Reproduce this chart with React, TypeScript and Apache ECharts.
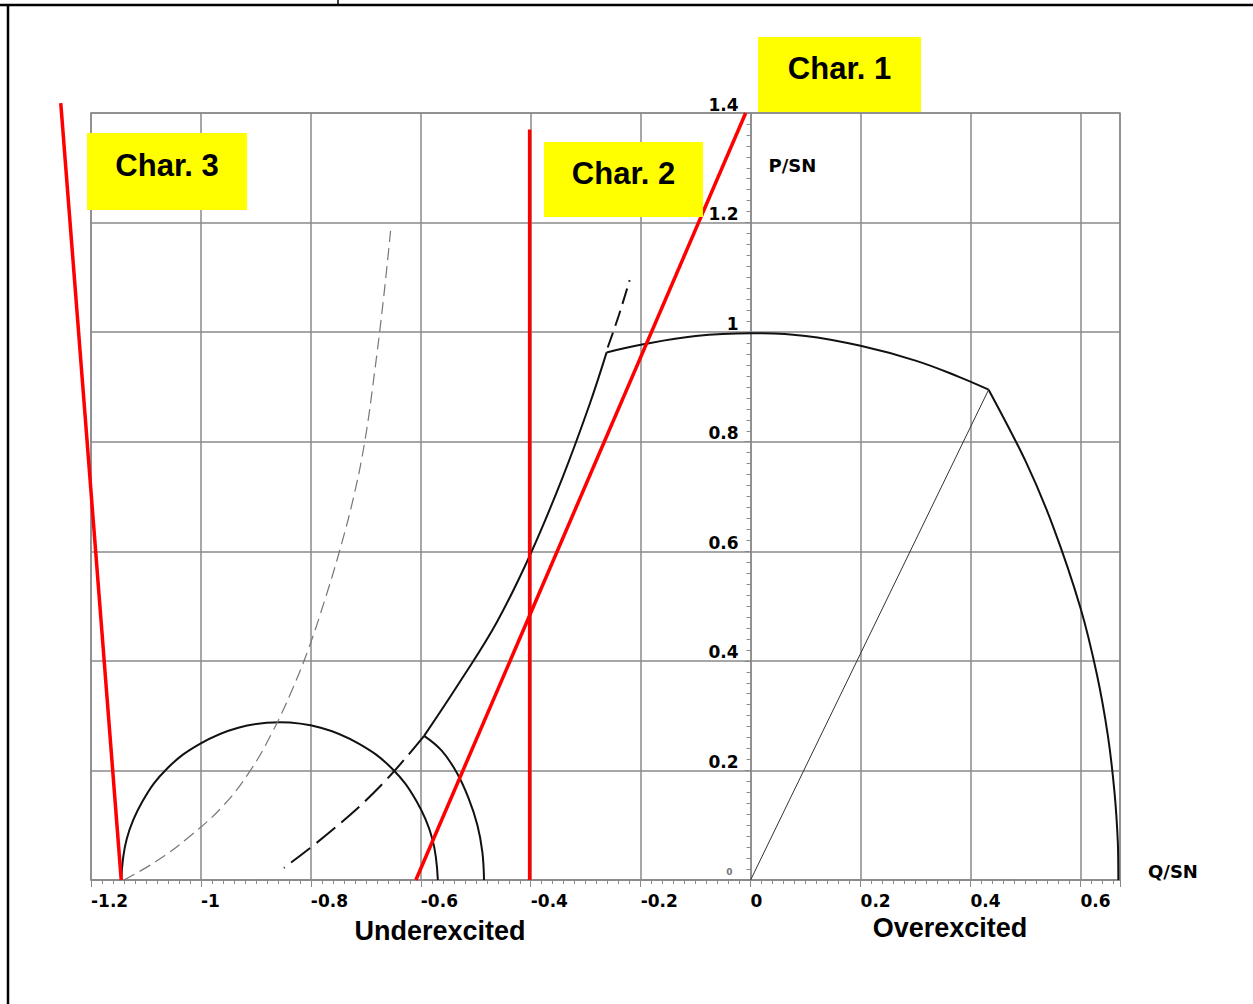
import React, { useEffect, useRef } from "react";
import * as echarts from "echarts";

// Capability diagram: Q/SN on x, P/SN on y
const statorArc: [number, number][] = [
  [-0.262, 0.963], [-0.2, 0.977], [-0.1, 0.993], [0, 0.998], [0.1, 0.993],
  [0.2, 0.975], [0.3, 0.948], [0.38, 0.918], [0.433, 0.895],
];
const rotorArc: [number, number][] = [
  [0.433, 0.895], [0.5, 0.765], [0.55, 0.646], [0.6, 0.497], [0.63, 0.375],
  [0.65, 0.263], [0.662, 0.16], [0.668, 0.07], [0.669, 0],
];
const loadLine: [number, number][] = [[0, 0], [0.433, 0.895]];
const smallCircle: [number, number][] = [
  [-1.145, 0], [-1.135, 0.075], [-1.106, 0.144], [-1.061, 0.204], [-1.001, 0.249],
  [-0.932, 0.278], [-0.857, 0.288], [-0.782, 0.278], [-0.713, 0.249], [-0.653, 0.204],
  [-0.608, 0.144], [-0.579, 0.075], [-0.569, 0],
];
const innerArc: [number, number][] = [
  [-0.594, 0.263], [-0.562, 0.236], [-0.534, 0.195], [-0.513, 0.149],
  [-0.497, 0.1], [-0.488, 0.051], [-0.485, 0],
];
const limitCurve: [number, number][] = [
  [-0.594, 0.263], [-0.53, 0.36], [-0.462, 0.47], [-0.4, 0.596],
  [-0.342, 0.735], [-0.293, 0.868], [-0.262, 0.963],
];
const limitDashUpper: [number, number][] = [[-0.26, 0.972], [-0.24, 1.03], [-0.22, 1.095]];
const limitDashLower: [number, number][] = [
  [-0.594, 0.263], [-0.673, 0.172], [-0.76, 0.092], [-0.849, 0.022],
];
const staticCurve: [number, number][] = [
  [-1.14, 0], [-1.08, 0.035], [-1.02, 0.08], [-0.96, 0.135], [-0.91, 0.2],
  [-0.87, 0.27], [-0.835, 0.345], [-0.805, 0.42], [-0.775, 0.51], [-0.748, 0.6],
  [-0.722, 0.7], [-0.702, 0.8], [-0.685, 0.92], [-0.668, 1.06], [-0.655, 1.185],
];
const char1: [number, number][] = [[-0.609, 0], [-0.009, 1.4]];
const char2: [number, number][] = [[-0.402, 0], [-0.402, 1.37]];
const char3: [number, number][] = [[-1.145, 0], [-1.255, 1.418]];

const charLabels = ["Char. 1", "Char. 2", "Char. 3"];
const axisNames = { x: "Q/SN", y: "P/SN" };
const regionLabels = ["Underexcited", "Overexcited"];

const tickFont = { fontFamily: "DejaVu Sans", fontWeight: "bold" as const, fontSize: 17, color: "#000" };
const grey = "#8a8a8a";

function curve(data: [number, number][], color: string, width: number, type: any = "solid", smooth: any = 0.4, z = 3) {
  return {
    type: "line",
    data,
    showSymbol: false,
    smooth,
    clip: false,
    silent: true,
    z,
    lineStyle: { color, width, type },
  };
}

function charBox(x: number, y: number, w: number, h: number, text: string, ty: number) {
  return [
    { type: "rect", shape: { x, y, width: w, height: h }, style: { fill: "#ffff00" }, z: 10 },
    {
      type: "text", x: x + w / 2, y: ty, z: 11,
      style: { text, fill: "#000", fontSize: 31, fontWeight: "bold", fontFamily: "Liberation Sans", align: "center", verticalAlign: "middle" },
    },
  ];
}

export default function App() {
  const ref = useRef<HTMLDivElement>(null);
  useEffect(() => {
    const chart = echarts.init(ref.current!, null, { renderer: "svg" });
    const option: any = {
      animation: false,
      backgroundColor: "#fff",
      grid: { left: 91, right: 133, top: 113, bottom: 124, show: true, borderColor: grey, borderWidth: 1.5, backgroundColor: "transparent" },
      xAxis: {
        type: "value", min: -1.2, max: 0.672, interval: 0.2,
        name: axisNames.x, nameLocation: "end", nameGap: 28,
        nameTextStyle: { ...tickFont, fontSize: 18, verticalAlign: "bottom", lineHeight: 18 },
        axisLine: { onZero: true, lineStyle: { color: grey, width: 1.5 } },
        axisTick: { show: true, length: 7, lineStyle: { color: grey } },
        minorTick: { show: true, splitNumber: 10, length: 4, lineStyle: { color: grey } },
        splitLine: { show: true, lineStyle: { color: grey, width: 1.5 } },
        axisLabel: {
          ...tickFont, showMaxLabel: false, align: "left", margin: 12,
          formatter: (v: number) => String(Number(v.toFixed(2))),
        },
      },
      yAxis: {
        type: "value", min: 0, max: 1.4, interval: 0.2,
        position: "left", offset: -659.6,
        name: axisNames.y, nameLocation: "end", nameGap: -52,
        nameTextStyle: { ...tickFont, fontSize: 18, align: "left", verticalAlign: "middle", padding: [0, 0, 0, 18] },
        axisLine: { onZero: false, lineStyle: { color: grey, width: 1.5 } },
        axisTick: { show: true, length: 6, lineStyle: { color: grey } },
        minorTick: { show: true, splitNumber: 10, length: 4, lineStyle: { color: grey } },
        splitLine: { show: true, lineStyle: { color: grey, width: 1.5 } },
        axisLabel: {
          ...tickFont, margin: 12, verticalAlign: "bottom", lineHeight: 17,
          formatter: (v: number) => (v === 0 ? "{s|0}" : String(Number(v.toFixed(2)))),
          rich: { s: { fontSize: 9, color: "#777", fontFamily: "DejaVu Sans", padding: [0, 6, 0, 0] } },
        },
      },
      series: [
        curve(statorArc, "#111", 2),
        curve(rotorArc, "#111", 2, "solid", 0.3),
        curve(loadLine, "#333", 1, "solid", false),
        curve(smallCircle, "#111", 2),
        curve(innerArc, "#111", 2),
        curve(limitCurve, "#111", 2),
        curve(limitDashUpper, "#111", 2, [16, 7]),
        curve(limitDashLower, "#111", 2, [24, 8]),
        curve(staticCurve, "#777", 1.2, [12, 6]),
        curve(char1, "#ff0000", 3.5, "solid", false, 6),
        curve(char2, "#ff0000", 3.5, "solid", false, 6),
      ],
    };
    chart.setOption(option);

    // Char. 3 reaches outside the plot area: map it through the chart's own scales
    const char3Px = char3.map((pt) => chart.convertToPixel({ gridIndex: 0 }, pt) as number[]);
    const graphics: any[] = [
      { type: "line", shape: { x1: 0, y1: 5, x2: 1253, y2: 5 }, style: { stroke: "#000", lineWidth: 2.5 } },
      { type: "line", shape: { x1: 8, y1: 5, x2: 8, y2: 1004 }, style: { stroke: "#000", lineWidth: 2.5 } },
      { type: "line", shape: { x1: 338, y1: 0, x2: 338, y2: 5 }, style: { stroke: "#000", lineWidth: 1.5 } },
      { type: "polyline", shape: { points: char3Px }, style: { stroke: "#ff0000", lineWidth: 3.5, fill: "none" }, z: 6 },
      ...charBox(758, 37, 163, 75, charLabels[0], 68),
      ...charBox(544, 142, 159, 75, charLabels[1], 173),
      ...charBox(87, 133, 160, 77, charLabels[2], 165),
      {
        type: "text", x: 440, y: 931,
        style: { text: regionLabels[0], fill: "#000", fontSize: 27, fontWeight: "bold", fontFamily: "Liberation Sans", align: "center", verticalAlign: "middle" },
      },
      {
        type: "text", x: 950, y: 928,
        style: { text: regionLabels[1], fill: "#000", fontSize: 27, fontWeight: "bold", fontFamily: "Liberation Sans", align: "center", verticalAlign: "middle" },
      },
    ];
    chart.setOption({ graphic: graphics });
    return () => chart.dispose();
  }, []);
  return (
    <div
      ref={ref}
      style={{ position: "absolute", left: 0, top: 0, width: 1253, height: 1004, background: "#fff" }}
    />
  );
}
